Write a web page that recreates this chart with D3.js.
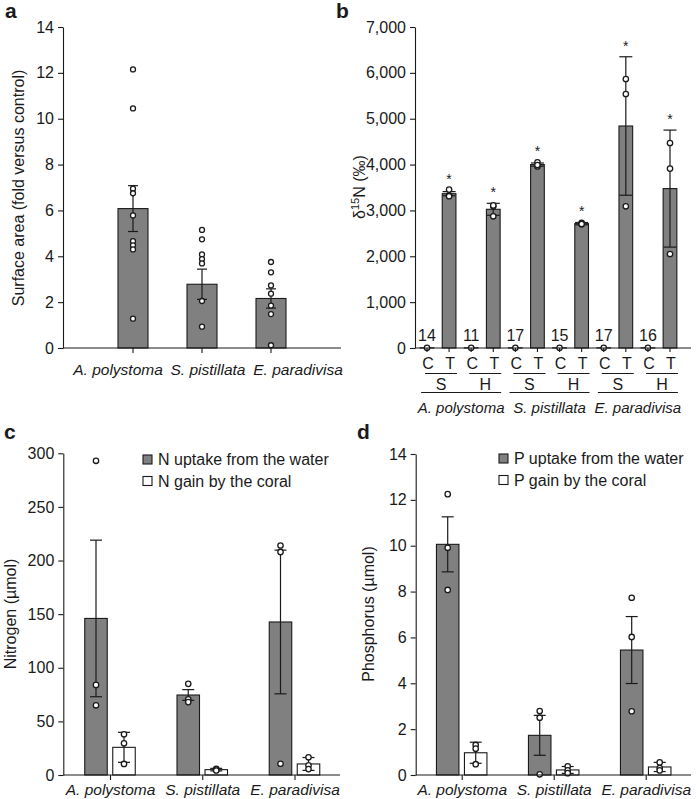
<!DOCTYPE html>
<html>
<head>
<meta charset="utf-8">
<script src="https://cdn.jsdelivr.net/npm/d3@7"></script>
<style>
  body { margin: 0; background: #fff; }
  text { font-family: "Liberation Sans", Arial, sans-serif; fill: #1a1a1a; }
</style>
</head>
<body>
<script>
// ---- data ----
const species = ["A. polystoma", "S. pistillata", "E. paradivisa"];

// a: surface area, fold versus control
const areaMean = [6.08, 2.78, 2.16];
const areaErr = [1.0, 0.66, 0.42];
const areaPts = [
  [12.15, 10.45, 6.95, 6.75, 5.78, 4.66, 4.48, 4.3, 1.28],
  [5.15, 4.74, 4.08, 3.88, 3.69, 2.05, 0.93],
  [3.75, 3.3, 2.73, 2.37, 1.85, 1.48, 0.12]
];

// b: d15N, control (C) and treatment (T) per species x tissue
const tissue = ["S", "H", "S", "H", "S", "H"];
const nCount = [14, 11, 17, 15, 17, 16];
const isoC = [4, 4, 4, 4, 4, 4];
const isoT = [3365, 3025, 4000, 2712, 4841, 3476];
const isoTErr = [45, 130, 35, 25, 1510, 1276];
const isoTPts = [
  [3454, 3330, 3310],
  [3090, 2872, 3110],
  [4050, 3960, 3990],
  [2730, 2700, 2705],
  [5866, 5539, 3090],
  [4470, 3912, 2050]
];

// c: nitrogen (umol)
const nUptake = [146, 74.6, 142.7];
const nUptakeErr = [73, 5, 67];
const nUptakePts = [[293, 84, 65], [85, 70.6, 68], [214, 208, 10.5]];
const nGain = [25.8, 5, 10.3];
const nGainErr = [14, 1.2, 6];
const nGainPts = [[38, 29.6, 10.3], [5.8, 5, 4.2], [16.5, 9, 5.5]];

// d: phosphorus (umol)
const pUptake = [10.06, 1.73, 5.45];
const pUptakeErr = [1.2, 0.87, 1.46];
const pUptakePts = [[12.25, 9.91, 8.07], [2.79, 2.5, 0.03], [7.73, 6.02, 2.78]];
const pGain = [0.97, 0.22, 0.35];
const pGainErr = [0.46, 0.15, 0.2];
const pGainPts = [[1.31, 1.15, 0.47], [0.38, 0.2, 0.08], [0.55, 0.3, 0.2]];

// ---- drawing ----
const FONT = '"Liberation Sans", Arial, sans-serif';
const GREY = "#808080";
const INK = "#1a1a1a";

const svg = d3.select("body").append("svg")
  .attr("width", 696)
  .attr("height", 799);

function yAxis(x0, y, ticks, fmt) {
  const g = svg.append("g")
    .attr("transform", `translate(${x0},0)`)
    .call(d3.axisLeft(y).tickValues(ticks).tickFormat(fmt)
      .tickSize(5).tickPadding(4).tickSizeOuter(0));
  g.attr("font-size", 16).attr("font-family", FONT);
  g.selectAll("path, line").attr("stroke", INK).attr("stroke-width", 1.1);
  g.selectAll("text").attr("fill", INK);
  return g;
}

function xLine(x1, x2, y0) {
  svg.append("line")
    .attr("x1", x1).attr("x2", x2).attr("y1", y0).attr("y2", y0)
    .attr("stroke", INK).attr("stroke-width", 1.1);
}

function xTicks(xs, y0, len) {
  svg.append("g").selectAll("line").data(xs).join("line")
    .attr("x1", d => d).attr("x2", d => d)
    .attr("y1", y0).attr("y2", y0 + len)
    .attr("stroke", INK).attr("stroke-width", 1.1);
}

function yLabel(x, yc, txt) {
  svg.append("text")
    .attr("transform", `translate(${x},${yc}) rotate(-90)`)
    .attr("text-anchor", "middle")
    .attr("dy", "0.35em")
    .attr("font-size", 16)
    .text(txt);
}

function panelLetter(x, y, t) {
  svg.append("text").attr("x", x).attr("y", y)
    .attr("font-size", 21).attr("font-weight", "bold").text(t);
}

function bars(data, w, fill) {
  svg.append("g").selectAll("rect").data(data).join("rect")
    .attr("x", d => d.cx - w / 2)
    .attr("y", d => Math.min(d.y0, d.y1))
    .attr("width", w)
    .attr("height", d => Math.abs(d.y0 - d.y1))
    .attr("fill", fill)
    .attr("stroke", INK)
    .attr("stroke-width", 1.1);
}

function errBars(data, cap) {
  const g = svg.append("g").attr("stroke", INK).attr("stroke-width", 1.2);
  g.selectAll(".v").data(data).join("line")
    .attr("x1", d => d.cx).attr("x2", d => d.cx)
    .attr("y1", d => d.top).attr("y2", d => d.bot);
  g.selectAll(".t").data(data).join("line")
    .attr("x1", d => d.cx - cap / 2).attr("x2", d => d.cx + cap / 2)
    .attr("y1", d => d.top).attr("y2", d => d.top);
  g.selectAll(".b").data(data).join("line")
    .attr("x1", d => d.cx - cap / 2).attr("x2", d => d.cx + cap / 2)
    .attr("y1", d => d.bot).attr("y2", d => d.bot);
}

function dots(data, r = 2.7) {
  svg.append("g").selectAll("circle").data(data).join("circle")
    .attr("cx", d => d.cx).attr("cy", d => d.cy).attr("r", r)
    .attr("fill", "#fff").attr("stroke", INK).attr("stroke-width", 1.3);
}

// ---------- panel a ----------
{
  const y = d3.scaleLinear().domain([0, 14]).range([348, 27]);
  const x = d3.scalePoint().domain(species).range([133, 271]);
  const lab = d3.scalePoint().domain(species).range([118, 298]);
  const bw = 30;

  bars(species.map((s, i) => ({ cx: x(s), y0: y(0), y1: y(areaMean[i]) })), bw, GREY);
  errBars(species.map((s, i) => ({
    cx: x(s), top: y(areaMean[i] + areaErr[i]), bot: y(areaMean[i] - areaErr[i])
  })), 10);
  dots(species.flatMap((s, i) => areaPts[i].map(v => ({ cx: x(s), cy: y(v) }))), 2.5);

  yAxis(63, y, d3.range(0, 15, 2), d3.format("d"));
  xLine(63, 341, y(0));
  xTicks(species.map(x), y(0), 5);
  svg.append("g").selectAll("text").data(species).join("text")
    .attr("x", d => lab(d)).attr("y", 375)
    .attr("text-anchor", "middle").attr("font-size", 15.5)
    .attr("font-style", "italic").text(d => d);

  yLabel(18, 188, "Surface area (fold versus control)");
  panelLetter(5, 18, "a");
}

// ---------- panel b ----------
{
  const y = d3.scaleLinear().domain([0, 7000]).range([348, 27]);
  const idx = d3.range(12);
  const x = d3.scalePoint().domain(idx).range([427, 670]);
  const bw = 13.7;
  const val = i => (i % 2 === 0 ? isoC[i >> 1] : isoT[i >> 1]);

  bars(idx.map(i => ({ cx: x(i), y0: y(0), y1: y(val(i)) })), bw, GREY);
  const tIdx = d3.range(6);
  errBars(tIdx.map(k => ({
    cx: x(2 * k + 1), top: y(isoT[k] + isoTErr[k]), bot: y(isoT[k] - isoTErr[k])
  })), 13);
  dots(tIdx.flatMap(k => isoTPts[k].map(v => ({ cx: x(2 * k + 1), cy: y(v) }))));
  dots(tIdx.map(k => ({ cx: x(2 * k), cy: y(isoC[k]) })));

  // significance asterisks
  svg.append("g").selectAll("text").data(tIdx).join("text")
    .attr("x", k => x(2 * k + 1))
    .attr("y", k => y(Math.max(isoT[k] + isoTErr[k], d3.max(isoTPts[k]))) - 6)
    .attr("text-anchor", "middle").attr("font-size", 14)
    .text("*");

  // n counts above controls
  svg.append("g").selectAll("text").data(tIdx).join("text")
    .attr("x", k => x(2 * k)).attr("y", 340.5)
    .attr("text-anchor", "middle").attr("font-size", 16)
    .text(k => nCount[k]);

  yAxis(415, y, d3.range(0, 7001, 1000), d3.format(","));
  xLine(415, 691, y(0));
  xTicks(idx.map(x), y(0), 4);

  // C / T row
  svg.append("g").selectAll("text").data(idx).join("text")
    .attr("x", i => x(i) + 1).attr("y", 368.5)
    .attr("text-anchor", "middle").attr("font-size", 16)
    .text(i => (i % 2 === 0 ? "C" : "T"));
  // tissue underline + label
  svg.append("g").selectAll("line").data(tIdx).join("line")
    .attr("x1", k => (x(2 * k) + x(2 * k + 1)) / 2 + 3 - 16)
    .attr("x2", k => (x(2 * k) + x(2 * k + 1)) / 2 + 3 + 16)
    .attr("y1", 373.5).attr("y2", 373.5)
    .attr("stroke", INK).attr("stroke-width", 1.1);
  svg.append("g").selectAll("text").data(tIdx).join("text")
    .attr("x", k => (x(2 * k) + x(2 * k + 1)) / 2 + 3).attr("y", 390)
    .attr("text-anchor", "middle").attr("font-size", 16)
    .text(k => tissue[k]);
  // species underline + label
  const sIdx = d3.range(3);
  const gMid = s => (x(4 * s) + x(4 * s + 3)) / 2;
  svg.append("g").selectAll("line").data(sIdx).join("line")
    .attr("x1", s => gMid(s) + 1 - 40).attr("x2", s => gMid(s) + 1 + 40)
    .attr("y1", 392.5).attr("y2", 392.5)
    .attr("stroke", INK).attr("stroke-width", 1.1);
  svg.append("g").selectAll("text").data(sIdx).join("text")
    .attr("x", s => gMid(s) + 1).attr("y", 413)
    .attr("text-anchor", "middle").attr("font-size", 15)
    .attr("font-style", "italic").text(s => species[s]);

  const lbl = svg.append("text")
    .attr("transform", "translate(359,187) rotate(-90)")
    .attr("text-anchor", "middle").attr("dy", "0.35em").attr("font-size", 16);
  lbl.append("tspan").text("δ");
  lbl.append("tspan").attr("dy", -6).attr("font-size", 11).text("15");
  lbl.append("tspan").attr("dy", 6).text("N (‰)");

  panelLetter(336, 18, "b");
}

// ---------- panels c, d ----------
function groupedPanel(opt) {
  const y = d3.scaleLinear().domain([0, opt.max]).range([775, opt.top]);
  const x = d3.scalePoint().domain(species).range(opt.centers);
  const off = 14, bw = 22.5;

  bars(species.map((s, i) => ({ cx: x(s) - off, y0: y(0), y1: y(opt.up[i]) })), bw, GREY);
  bars(species.map((s, i) => ({ cx: x(s) + off, y0: y(0), y1: y(opt.gain[i]) })), bw, "#fff");
  errBars(species.flatMap((s, i) => [
    { cx: x(s) - off, top: y(opt.up[i] + opt.upErr[i]), bot: y(opt.up[i] - opt.upErr[i]) },
    { cx: x(s) + off, top: y(opt.gain[i] + opt.gainErr[i]), bot: y(Math.max(0, opt.gain[i] - opt.gainErr[i])) }
  ]), 12);
  dots(species.flatMap((s, i) => [
    ...opt.upPts[i].map(v => ({ cx: x(s) - off, cy: y(v) })),
    ...opt.gainPts[i].map(v => ({ cx: x(s) + off, cy: y(v) }))
  ]));

  yAxis(opt.axisX, y, d3.range(0, opt.max + 1e-9, opt.step), d3.format("d"));
  const xa = svg.append("g")
    .attr("transform", `translate(0,${y(0)})`)
    .call(d3.axisBottom(x).tickSize(5).tickPadding(4).tickSizeOuter(0));
  xa.select(".domain").remove();
  xa.attr("font-size", 15.5).attr("font-family", FONT);
  xa.selectAll("line").attr("stroke", INK).attr("stroke-width", 1.1);
  xa.selectAll("text").attr("fill", INK).attr("font-style", "italic");
  xLine(opt.axisX, opt.axisEnd, y(0));

  // legend
  const lg = svg.append("g");
  opt.legend.forEach((t, i) => {
    const yy = opt.legY + i * 21.5;
    lg.append("rect").attr("x", opt.legX).attr("y", yy - 4.5)
      .attr("width", 9).attr("height", 9)
      .attr("fill", i === 0 ? GREY : "#fff").attr("stroke", INK).attr("stroke-width", 1.1);
    lg.append("text").attr("x", opt.legX + 15).attr("y", yy)
      .attr("dy", "0.35em").attr("font-size", 16).text(t);
  });

  yLabel(opt.labelX, 614, opt.label);
  panelLetter(opt.letterX, 438.5, opt.letter);
}

groupedPanel({
  max: 300, step: 50, top: 453.3, centers: [110, 294.5], axisX: 63.3, axisEnd: 340,
  up: nUptake, upErr: nUptakeErr, upPts: nUptakePts,
  gain: nGain, gainErr: nGainErr, gainPts: nGainPts,
  legend: ["N uptake from the water", "N gain by the coral"], legX: 143, legY: 459.5,
  label: "Nitrogen (µmol)", labelX: 10, letter: "c", letterX: 4
});

groupedPanel({
  max: 14, step: 2, top: 454, centers: [461.7, 645.7], axisX: 415.7, axisEnd: 691,
  up: pUptake, upErr: pUptakeErr, upPts: pUptakePts,
  gain: pGain, gainErr: pGainErr, gainPts: pGainPts,
  legend: ["P uptake from the water", "P gain by the coral"], legX: 499, legY: 458.5,
  label: "Phosphorus (µmol)", labelX: 368, letter: "d", letterX: 357
});
</script>
</body>
</html>
